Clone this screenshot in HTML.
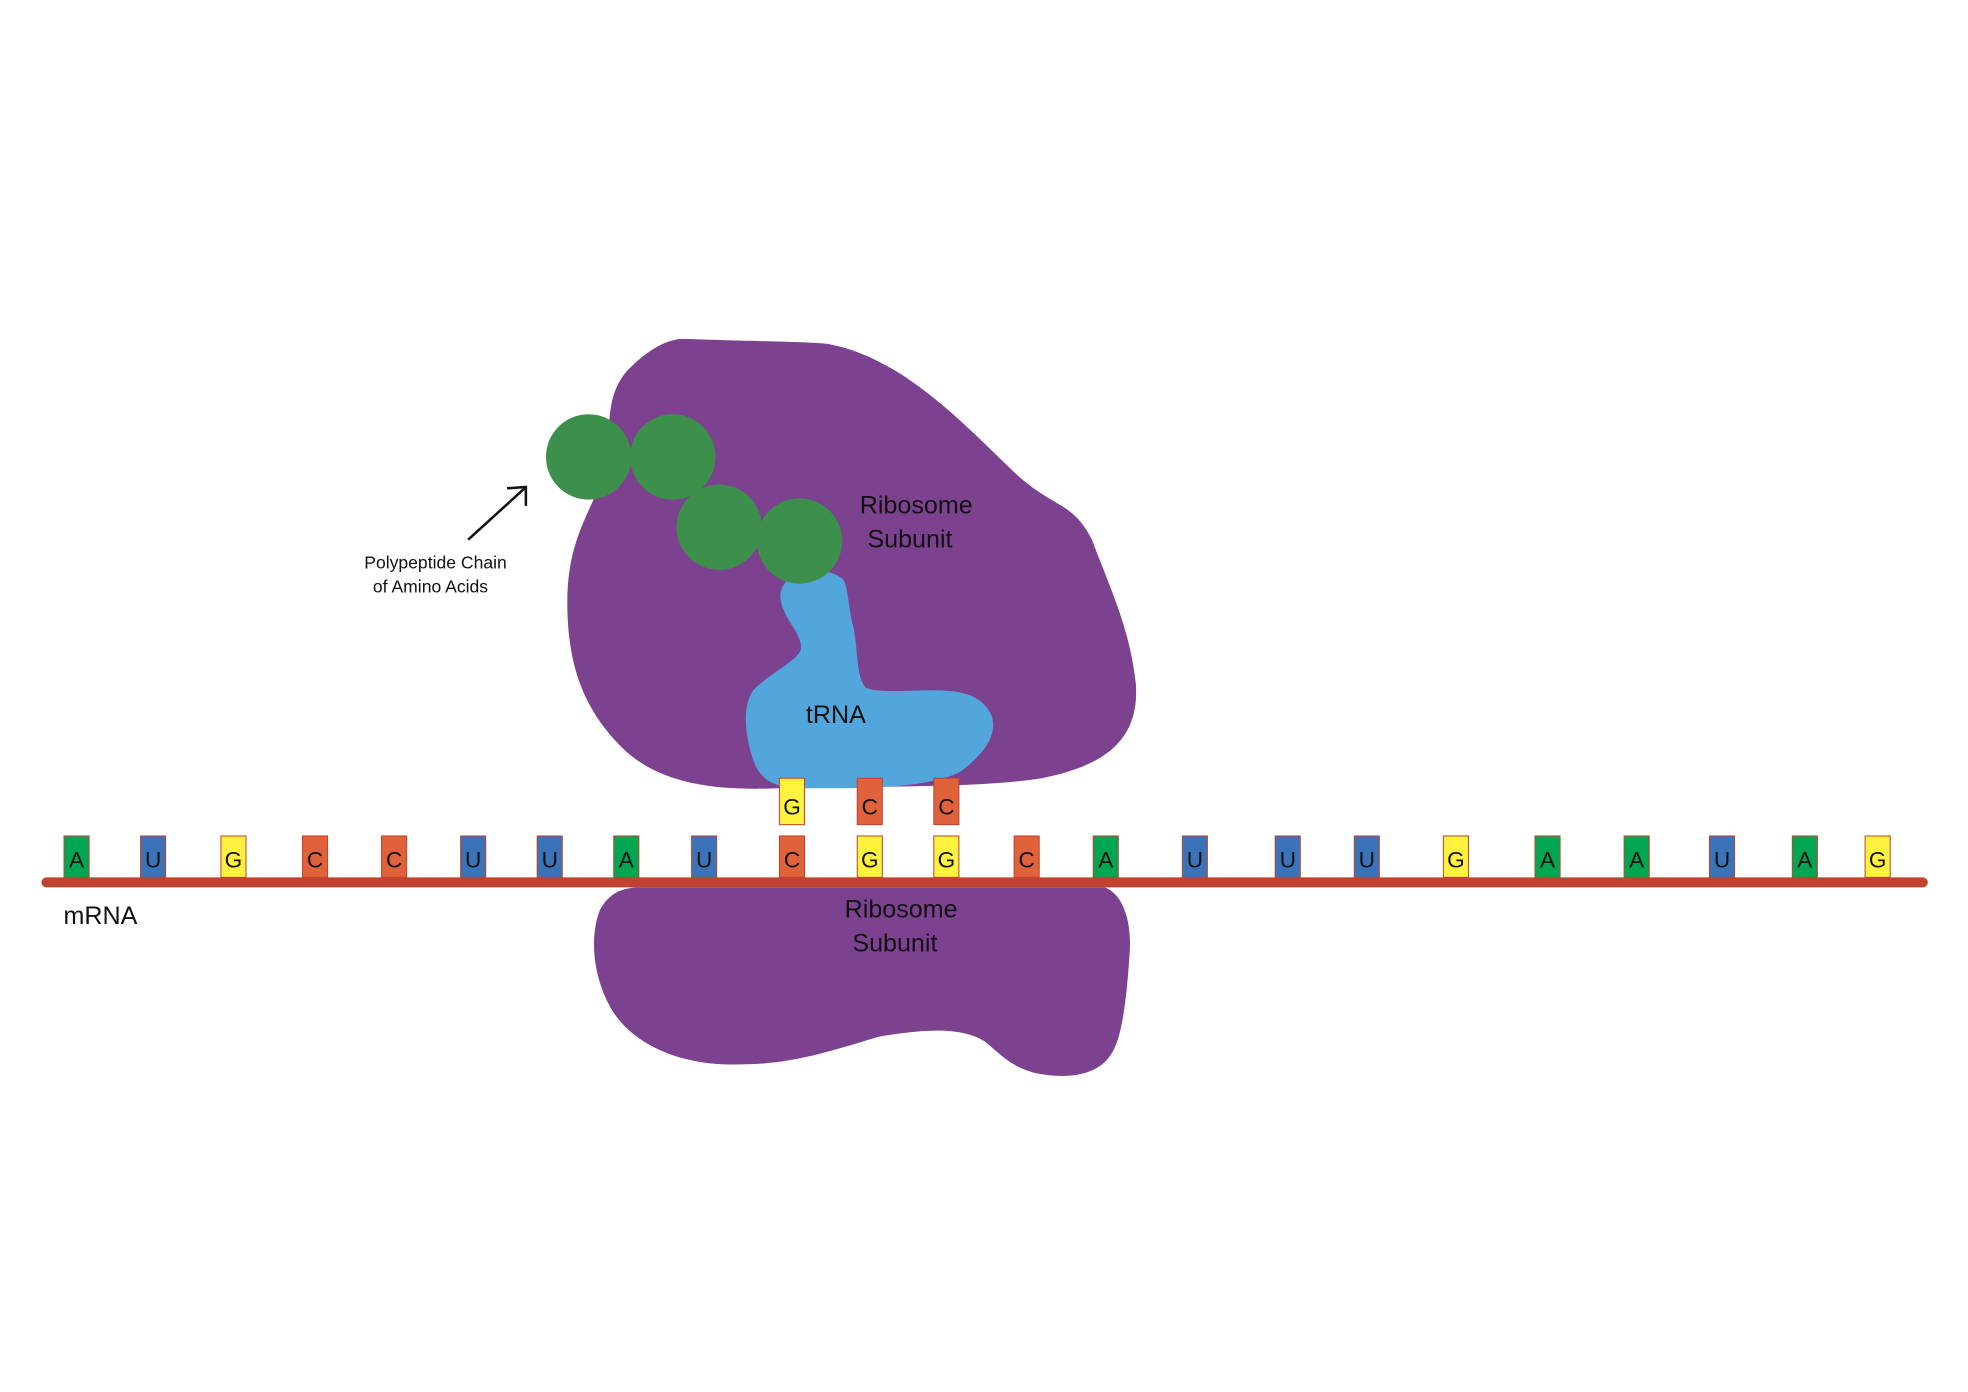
<!DOCTYPE html>
<html><head><meta charset="utf-8"><style>
html,body{margin:0;padding:0;background:#fff;}
svg{display:block;}
text{font-family:"Liberation Sans",sans-serif;fill:#111;}
</style></head><body>
<svg id="fig" width="1968" height="1392" viewBox="0 0 1568 1109" xmlns="http://www.w3.org/2000/svg">
<rect width="1568" height="1109" fill="#fff"/>
<path fill="#7c4290" d="M545,270 C600,272 640,272 660,274 C720,285 770,340 810,378 C840,405 855,400 870,430 C885,470 900,500 905,545 C908,590 880,610 830,620 C780,628 700,626 620,628 C570,630 525,625 495,595 C465,565 452,530 452,480 C452,430 470,410 480,380 C490,350 478,320 500,295 C515,280 530,270 545,270 Z"/>
<path fill="#7c4290" d="M510,707 L880,707 C895,712 902,735 900,760 C898,790 895,820 888,835 C878,858 850,860 825,855 C805,850 795,838 785,830 C770,820 745,818 700,826 C660,838 630,848 590,848 C540,850 500,830 485,800 C472,775 470,745 478,725 C485,712 495,707 510,707 Z"/>
<path fill="#52a6dc" d="M645,455 C632,455 620,465 622,478 C625,495 640,505 638,518 C633,528 615,535 600,550 C590,565 595,590 600,605 C605,620 615,628 640,628 C690,628 740,628 765,615 C785,600 795,585 790,570 C782,553 765,550 745,550 C720,550 700,552 690,548 C682,540 684,520 680,500 C676,485 676,470 672,462 C665,455 655,455 645,455 Z"/>
<g id="chain"></g>
<line x1="373" y1="430" x2="418" y2="389" stroke="#111" stroke-width="2"/>
<path d="M404,389 L419,388 L419,403" fill="none" stroke="#111" stroke-width="2"/>
<text x="347" y="453" font-size="14" text-anchor="middle">Polypeptide Chain</text>
<text x="343" y="472" font-size="14" text-anchor="middle">of Amino Acids</text>
<text x="730" y="409" font-size="20" text-anchor="middle">Ribosome</text>
<text x="725" y="436" font-size="20" text-anchor="middle">Subunit</text>
<text x="666" y="576" font-size="20" text-anchor="middle">tRNA</text>
<rect x="33" y="699" width="1503" height="8" rx="4" fill="#c0432f"/>
<g id="bases"></g>
<g id="anticodons"></g>
<text x="718" y="731" font-size="20" text-anchor="middle">Ribosome</text>
<text x="713" y="758" font-size="20" text-anchor="middle">Subunit</text>
<text x="80" y="736" font-size="20" text-anchor="middle">mRNA</text>
</svg>
<script>
const codonSeq = ["A","U","G","C","C","U","U","A","U","C","G","G","C","A","U","U","U","G","A","A","U","A","G"];
const basePos = [61,122,186,251,314,377,438,499,561,631,693,754,818,881,952,1026,1089,1160,1233,1304,1372,1438,1496];
const anticodonSeq = ["G","C","C"];
const anticodonIdx = [9,10,11];
const aminoX = [469,536,573,637];
const aminoY = [364,364,420,431];
const colors = {A:"#00a651",U:"#3a73b8",G:"#fff23e",C:"#e0623a"};
const NS="http://www.w3.org/2000/svg";
function base(g,letter,cx,top,h){
  const r=document.createElementNS(NS,"rect");
  r.setAttribute("x",cx-10);r.setAttribute("y",top);r.setAttribute("width",20);r.setAttribute("height",h);
  r.setAttribute("fill",colors[letter]);r.setAttribute("stroke","#c0432f");r.setAttribute("stroke-width","0.8");
  
  
  g.appendChild(r);
  const t=document.createElementNS(NS,"text");
  t.setAttribute("x",cx);t.setAttribute("y",top+h-8);t.setAttribute("font-size","18");t.setAttribute("text-anchor","middle");
  t.textContent=letter;
  
  
  g.appendChild(t);
}
const bg=document.getElementById("bases");
codonSeq.forEach((l,i)=>base(bg,l,basePos[i],666,33));
const ag=document.getElementById("anticodons");
anticodonSeq.forEach((l,i)=>base(ag,l,basePos[anticodonIdx[i]],620,37));
const cg=document.getElementById("chain");
aminoX.forEach((x,i)=>{
  const c=document.createElementNS(NS,"circle");
  c.setAttribute("cx",x);c.setAttribute("cy",aminoY[i]);c.setAttribute("r",34);c.setAttribute("fill","#3c904c");
  
  
  cg.appendChild(c);
});
</script>
</body></html>
